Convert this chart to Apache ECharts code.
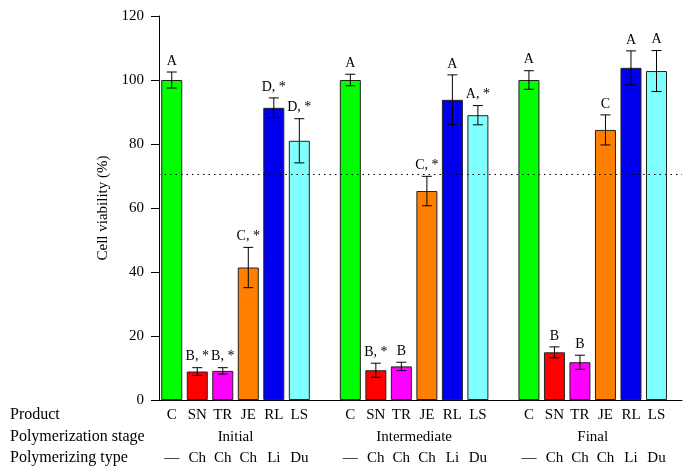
<!DOCTYPE html>
<html>
<head>
<meta charset="utf-8">
<script src="https://cdn.jsdelivr.net/npm/echarts@6/dist/echarts.min.js"></script>
<style>html,body{margin:0;padding:0;background:#fff;}#c{width:693px;height:476px;}</style>
</head>
<body>
<div id="c"></div>
<script>
// ---- data ----
const products = ['C', 'SN', 'TR', 'JE', 'RL', 'LS'];
const polymerTypes = ['\u2014', 'Ch', 'Ch', 'Ch', 'Li', 'Du'];
const stages = ['Initial', 'Intermediate', 'Final'];
const colors = ['#00ff00', '#ff0000', '#ff00ff', '#ff8000', '#0000ee', '#80ffff'];

const meanInitial = [100, 8.9, 9.1, 41.4, 91.3, 81.0];
const errInitial = [2.5, 1.2, 1.0, 6.3, 3.1, 6.9];
const letterInitial = ['A', 'B, *', 'B, *', 'C, *', 'D, *', 'D, *'];

const meanIntermediate = [100, 9.3, 10.5, 65.3, 93.8, 89.0];
const errIntermediate = [1.8, 2.2, 1.3, 4.6, 7.8, 3.0];
const letterIntermediate = ['A', 'B, *', 'B', 'C, *', 'A', 'A, *'];

const meanFinal = [100, 14.9, 11.8, 84.4, 103.8, 102.8];
const errFinal = [2.9, 1.7, 2.2, 4.7, 5.3, 6.4];
const letterFinal = ['A', 'B', 'B', 'C', 'A', 'A'];

const threshold = 70.6;

// ---- build ----
const means = [meanInitial, meanIntermediate, meanFinal];
const errs = [errInitial, errIntermediate, errFinal];
const letters = [letterInitial, letterIntermediate, letterFinal];
const slotsPerGroup = products.length + 1;

const barData = [], errData = [], errLabels = [], productSlots = [], stageSlots = [];
const slotProduct = {}, slotType = {}, slotStage = {};
stages.forEach((s, g) => {
  const c = g * slotsPerGroup + (products.length - 1) / 2;
  stageSlots.push(c);
  slotStage[c] = s;
  products.forEach((p, i) => {
    const x = g * slotsPerGroup + i;
    productSlots.push(x);
    slotProduct[x] = p;
    slotType[x] = polymerTypes[i];
    barData.push({ value: [x, means[g][i]], itemStyle: { color: colors[i] } });
    errData.push([x, means[g][i], errs[g][i]]);
    errLabels.push(letters[g][i]);
  });
});

const serif = 'Liberation Serif';
const FS = 15;
const chart = echarts.init(document.getElementById('c'));
const xBase = {
  type: 'value', min: -0.5, max: stages.length * slotsPerGroup - 1,
  gridIndex: 0, position: 'bottom',
  splitLine: { show: false }, axisTick: { show: false },
};
chart.setOption({
  animation: false,
  grid: { left: 159, right: 11, top: 16, bottom: 76 },
  xAxis: [
    Object.assign({}, xBase, {
      axisLine: { show: true, onZero: false, lineStyle: { color: '#000', width: 1 } },
      axisLabel: { customValues: productSlots, formatter: v => slotProduct[v] || '', color: '#000', fontFamily: serif, fontSize: FS, margin: 8 }
    }),
    Object.assign({}, xBase, {
      offset: 22, axisLine: { show: false, onZero: false },
      axisLabel: { customValues: stageSlots, formatter: v => slotStage[v] || '', color: '#000', fontFamily: serif, fontSize: FS, margin: 8 }
    }),
    Object.assign({}, xBase, {
      offset: 43, axisLine: { show: false, onZero: false },
      axisLabel: { customValues: productSlots, formatter: v => slotType[v] || '', color: '#000', fontFamily: serif, fontSize: FS, margin: 8 }
    })
  ],
  yAxis: {
    type: 'value', min: 0, max: 120, interval: 20,
    name: 'Cell viability (%)', nameLocation: 'middle', nameGap: 42,
    nameTextStyle: { color: '#000', fontFamily: serif, fontSize: FS },
    axisLine: { show: true, onZero: false, lineStyle: { color: '#000', width: 1 } },
    axisTick: { show: true, length: 8, lineStyle: { color: '#000' } },
    axisLabel: { color: '#000', fontFamily: serif, fontSize: FS, margin: 15 },
    splitLine: { show: false }
  },
  graphic: [
    { type: 'text', left: 10, top: 407, style: { text: 'Product', font: '16px "Liberation Serif"', fill: '#000' } },
    { type: 'text', left: 10, top: 429, style: { text: 'Polymerization stage', font: '16px "Liberation Serif"', fill: '#000' } },
    { type: 'text', left: 10, top: 450, style: { text: 'Polymerizing type', font: '16px "Liberation Serif"', fill: '#000' } }
  ],
  series: [
    {
      type: 'bar', xAxisIndex: 0, data: barData, barWidth: 21, z: 2,
      itemStyle: { borderColor: '#222', borderWidth: 1 },
      markLine: {
        silent: true, symbol: 'none', label: { show: false },
        lineStyle: { color: '#000', type: [1.5, 4], width: 1.2 },
        data: [{ yAxis: threshold }]
      }
    },
    {
      type: 'custom', xAxisIndex: 0, data: errData, z: 5,
      renderItem: (params, api) => {
        const x = api.value(0), m = api.value(1), e = api.value(2);
        const top = api.coord([x, m + e]);
        const bot = api.coord([x, m - e]);
        const hw = 5;
        return {
          type: 'group',
          children: [
            { type: 'line', shape: { x1: top[0], y1: top[1], x2: bot[0], y2: bot[1] }, style: { stroke: '#000', lineWidth: 1 } },
            { type: 'line', shape: { x1: top[0] - hw, y1: top[1], x2: top[0] + hw, y2: top[1] }, style: { stroke: '#000', lineWidth: 1 } },
            { type: 'line', shape: { x1: bot[0] - hw, y1: bot[1], x2: bot[0] + hw, y2: bot[1] }, style: { stroke: '#000', lineWidth: 1 } },
            { type: 'text', x: top[0], y: top[1] - 4, style: { text: errLabels[params.dataIndex], align: 'center', verticalAlign: 'bottom', font: '14px "Liberation Serif"', fill: '#000' } }
          ]
        };
      }
    }
  ]
});
</script>
</body>
</html>
